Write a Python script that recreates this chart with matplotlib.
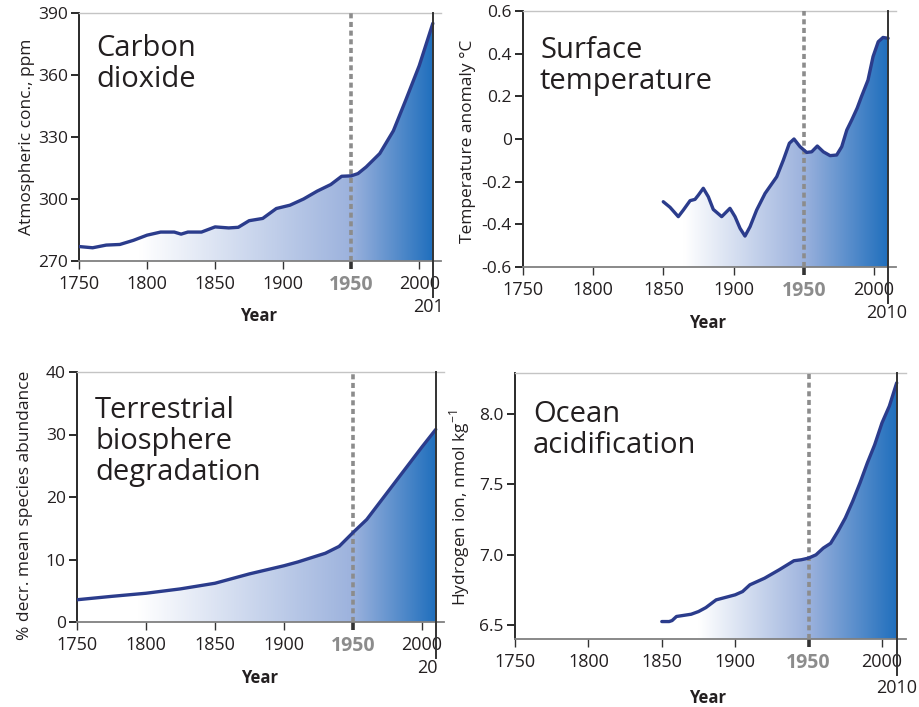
import numpy as np
import matplotlib
matplotlib.use("Agg")
import matplotlib.pyplot as plt
from matplotlib.lines import Line2D

plt.rcParams['font.family'] = ['Open Sans', 'DejaVu Sans']

# ---------------- data ----------------
co2_years = [1750, 1760, 1770, 1780, 1790, 1800, 1810, 1820, 1825, 1830, 1840, 1850, 1860,
             1867, 1875, 1885, 1895, 1905, 1915, 1925, 1935, 1943, 1950, 1955, 1961, 1971,
             1981, 1990, 2000, 2010]
co2_ppm = [277, 276.4, 277.7, 278, 280, 282.5, 284, 284, 283, 284, 284, 286.5, 286,
           286.3, 289.5, 290.6, 295.4, 297, 300, 303.8, 307, 311, 311.2, 312.3, 315.5, 322,
           333, 347.7, 364.5, 385]

temp_years = [1849.9, 1854.7, 1860.6, 1864.2, 1869, 1872.5, 1874.9, 1878.4, 1882, 1885.5,
              1891.5, 1897.4, 1901, 1904.6, 1908.1, 1911.7, 1916.4, 1922.4, 1930.7, 1935.4,
              1939.7, 1943, 1947.3, 1952, 1955.6, 1959.6, 1963.9, 1968.7, 1973.4, 1977,
              1980.6, 1984.1, 1988, 1991, 1995.7, 1999.3, 2003, 2006.4, 2010]
temp_anom = [-0.294, -0.320, -0.364, -0.333, -0.289, -0.283, -0.263, -0.231, -0.271, -0.330,
             -0.364, -0.325, -0.364, -0.419, -0.455, -0.411, -0.333, -0.255, -0.177, -0.099,
             -0.020, 0.0, -0.036, -0.063, -0.060, -0.033, -0.060, -0.078, -0.075, -0.036,
             0.042, 0.089, 0.145, 0.198, 0.276, 0.386, 0.456, 0.476, 0.472]

bio_years = [1750, 1775, 1800, 1825, 1850, 1875, 1900, 1910, 1920, 1930, 1940, 1950, 1960,
             1970, 1980, 1990, 2000, 2010]
bio_pct = [3.56, 4.1, 4.6, 5.3, 6.2, 7.7, 9.0, 9.6, 10.3, 11.0, 12.1, 14.3, 16.4,
           19.3, 22.2, 25.1, 28.0, 30.8]

ocean_years = [1850, 1855, 1857, 1860, 1870, 1875, 1880, 1887, 1895, 1900, 1905, 1910, 1920,
               1930, 1940, 1945, 1950, 1955, 1960, 1965, 1970, 1975, 1980, 1985, 1990, 1995,
               2000, 2005, 2010]
ocean_h = [6.524, 6.524, 6.531, 6.56, 6.576, 6.595, 6.623, 6.678, 6.70, 6.714, 6.737, 6.785,
           6.832, 6.892, 6.956, 6.963, 6.975, 6.998, 7.046, 7.08, 7.165, 7.26, 7.378, 7.509,
           7.651, 7.78, 7.936, 8.055, 8.22]

x_ticks = [1750, 1800, 1850, 1900, 1950, 2000]
co2_yticks = [270, 300, 330, 360, 390]
temp_yticks = [-0.6, -0.4, -0.2, 0, 0.2, 0.4, 0.6]
temp_yticklabels = ['-0.6', '-0.4', '-0.2', '0', '0.2', '0.4', '0.6']
bio_yticks = [0, 10, 20, 30, 40]
ocean_yticks = [6.5, 7.0, 7.5, 8.0]
ocean_yticklabels = ['6.5', '7.0', '7.5', '8.0']

# ---------------- figure ----------------
W, H = 919, 707
DPI = 100
fig = plt.figure(figsize=(W / DPI, H / DPI), dpi=DPI)

LINE_C = '#2b3c8c'
DASH_C = '#8c8c8c'
TXT_C = '#231f20'
MID = np.array([0x9c, 0xb2, 0xdd]) / 255
DARK = np.array([0x20, 0x6f, 0xbd]) / 255


def px_axes(l, r, t, b):
    return fig.add_axes([l / W, 1 - b / H, (r - l) / W, (b - t) / H])


def panel(rect, years, vals, ylim, yticks, yticklabels, grad_start, title, title_xy,
          ylabel, ylabel_xy, year_xy, end_label, end_xy, end_ha):
    ax = px_axes(*rect)
    ax.set_facecolor('white')
    years = np.asarray(years, float)
    vals = np.asarray(vals, float)
    # gradient fill under curve
    poly = ax.fill_between(years, vals, ylim[0], facecolor='none', edgecolor='none')
    path = poly.get_paths()[0]
    cols = np.linspace(years[0], 2010, 700)
    rgb = np.zeros((2, len(cols), 3))
    for c in range(3):
        rgb[:, :, c] = np.interp(cols, [years[0], grad_start, 1950, 2010],
                                 [1.0, 1.0, MID[c], DARK[c]])[None, :]
    im = ax.imshow(rgb, extent=[years[0], 2010, ylim[0], ylim[1]], aspect='auto',
                   origin='lower', zorder=1, interpolation='bilinear')
    im.set_clip_path(path, transform=ax.transData)
    # 1950 dashed line
    ax.plot([1950, 1950], ylim, color=DASH_C, lw=2.6, linestyle=(0, (1.4, 1.0)),
            zorder=3, dash_capstyle='butt')
    # data line
    ax.plot(years, vals, color=LINE_C, lw=2.4, zorder=4, solid_capstyle='round',
            solid_joinstyle='round')
    ax.set_xlim(1750, 2016)
    ax.set_ylim(*ylim)
    # spines
    ax.spines['right'].set_visible(False)
    ax.spines['top'].set_color('#c4c4c4')
    ax.spines['top'].set_linewidth(1.0)
    ax.spines['bottom'].set_color('#808080')
    ax.spines['bottom'].set_linewidth(1.3)
    ax.spines['left'].set_color('#2a2a2a')
    ax.spines['left'].set_linewidth(1.4)
    # right line at 2010 extending below the axis
    ax.add_line(Line2D([2010, 2010], [-36 / (rect[3] - rect[2]), 1.0], color='#333333', lw=1.4,
                       transform=ax.get_xaxis_transform(), clip_on=False, zorder=5))
    # ticks
    ax.set_xticks(x_ticks)
    ax.set_xticklabels([str(t) for t in x_ticks])
    ax.tick_params(axis='x', direction='out', length=6, width=1.0, colors='#333333',
                   labelcolor=TXT_C, labelsize=13, pad=4)
    ax.set_yticks(yticks)
    ax.set_yticklabels(yticklabels)
    ax.tick_params(axis='y', direction='out', length=6, width=1.4, colors='#2a2a2a',
                   labelcolor=TXT_C, labelsize=12.5, pad=2)
    for lab in ax.get_xticklabels():
        if lab.get_text() == '1950':
            lab.set_color('#8c8c8c')
            lab.set_fontweight('bold')
            lab.set_fontsize(14)
    for tk in ax.xaxis.get_major_ticks():
        if abs(tk.get_loc() - 1950) < 1e-6:
            tk.tick1line.set_color(DASH_C)
            tk.tick1line.set_markeredgewidth(2.6)
    # texts
    fig.text(title_xy[0] / W, 1 - title_xy[1] / H, title, fontsize=21, color=TXT_C,
             ha='left', va='baseline', linespacing=1.1)
    fig.text(ylabel_xy[0] / W, 1 - ylabel_xy[1] / H, ylabel, fontsize=12.5, color=TXT_C,
             rotation=90, ha='center', va='center')
    fig.text(year_xy[0] / W, 1 - year_xy[1] / H, 'Year', fontsize=12, fontweight='bold',
             color=TXT_C, ha='center', va='center')
    fig.text(end_xy[0] / W, 1 - end_xy[1] / H, end_label, fontsize=13, color=TXT_C,
             ha=end_ha, va='center')
    return ax


panel((79, 441, 13, 261), co2_years, co2_ppm, (270, 390), co2_yticks,
      [str(t) for t in co2_yticks], 1795, 'Carbon\ndioxide', (96, 87),
      'Atmospheric conc., ppm', (27, 137), (259, 316), '201', (413, 307), 'left')

panel((523, 896.5, 11, 267), temp_years, temp_anom, (-0.6, 0.6), temp_yticks,
      temp_yticklabels, 1865, 'Surface\ntemperature', (540, 89),
      'Temperature anomaly °C', (468, 141), (708, 323), '2010', (887, 313), 'center')

panel((77, 444, 372, 622), bio_years, bio_pct, (0, 40), bio_yticks,
      [str(t) for t in bio_yticks], 1795, 'Terrestrial\nbiosphere\ndegradation', (95, 480),
      '% decr. mean species abundance', (25, 505), (260, 678), '20', (417, 668), 'left')

panel((515, 905.5, 373, 639), ocean_years, ocean_h, (6.4, 8.29), ocean_yticks,
      ocean_yticklabels, 1875, 'Ocean\nacidification', (533, 453),
      r'Hydrogen ion, nmol kg$^{\mathregular{-1}}$', (460, 508), (708, 698), '2010',
      (897, 688), 'center')

fig.savefig('out.png', dpi=DPI, facecolor='white')
